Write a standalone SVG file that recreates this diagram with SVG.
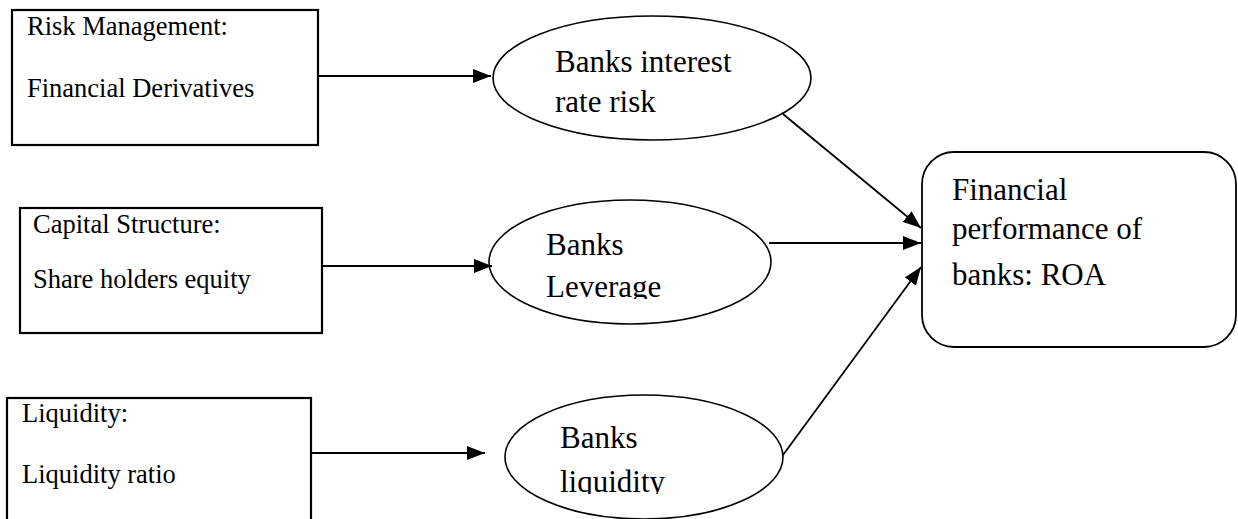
<svg xmlns="http://www.w3.org/2000/svg" width="1238" height="519" viewBox="0 0 1238 519">
<style>
.box{fill:#fff;stroke:#000;stroke-width:2.2}
.ell{fill:#fff;stroke:#000;stroke-width:1.6}
.t1{font-family:"Liberation Serif","Times New Roman",serif;font-size:26.5px;fill:#000}
.t2{font-family:"Liberation Serif","Times New Roman",serif;font-size:31px;fill:#000}
.con{stroke:#000;stroke-width:1.8;fill:none;marker-end:url(#ah)}
</style>
<defs>
<marker id="ah" markerUnits="userSpaceOnUse" markerWidth="18" markerHeight="14" viewBox="0 0 18 14" refX="18" refY="7" orient="auto">
<path d="M0,0 L18,7 L0,14 Z" fill="#000"/>
</marker>
<clipPath id="c2"><rect x="480" y="190" width="300" height="109"/></clipPath>
<clipPath id="c3"><rect x="500" y="380" width="300" height="114"/></clipPath>
</defs>
<g id="risk">
<rect class="box" x="12" y="10" width="306" height="135"/>
<text class="t1" x="27" y="35">Risk Management:</text>
<text class="t1" x="27" y="97">Financial Derivatives</text>
</g>
<g id="capital">
<rect class="box" x="20" y="208" width="302" height="125"/>
<text class="t1" x="33" y="233">Capital Structure:</text>
<text class="t1" x="33" y="288">Share holders equity</text>
</g>
<g id="liquidity">
<rect class="box" x="7" y="398" width="304" height="140"/>
<text class="t1" x="22" y="422">Liquidity:</text>
<text class="t1" x="22" y="483">Liquidity ratio</text>
</g>
<g id="irr">
<ellipse class="ell" cx="652" cy="78" rx="159" ry="62"/>
<text class="t2" x="555" y="72">Banks interest</text>
<text class="t2" x="555" y="112">rate risk</text>
</g>
<g id="leverage">
<ellipse class="ell" cx="630" cy="262" rx="141" ry="62"/>
<g clip-path="url(#c2)">
<text class="t2" x="546" y="255">Banks</text>
<text class="t2" x="546" y="297">Leverage</text>
</g>
</g>
<g id="bliquidity">
<ellipse class="ell" cx="644" cy="457" rx="139" ry="62"/>
<g clip-path="url(#c3)">
<text class="t2" x="560" y="448">Banks</text>
<text class="t2" x="560" y="492">liquidity</text>
</g>
</g>
<g id="roa">
<rect class="box" x="922" y="152" width="314" height="195" rx="32" ry="32" style="stroke-width:1.8"/>
<text class="t2" x="952" y="200">Financial</text>
<text class="t2" x="952" y="239">performance of</text>
<text class="t2" x="952" y="285">banks: ROA</text>
</g>
<g id="connectors">
<line class="con" x1="318" y1="76" x2="491" y2="76"/>
<line class="con" x1="322" y1="266" x2="492" y2="266"/>
<line class="con" x1="311" y1="453" x2="485" y2="453"/>
<line class="con" x1="783" y1="114" x2="921" y2="228"/>
<line class="con" x1="769" y1="243" x2="921" y2="243"/>
<line class="con" x1="783" y1="455" x2="921" y2="267"/>
</g>
</svg>
